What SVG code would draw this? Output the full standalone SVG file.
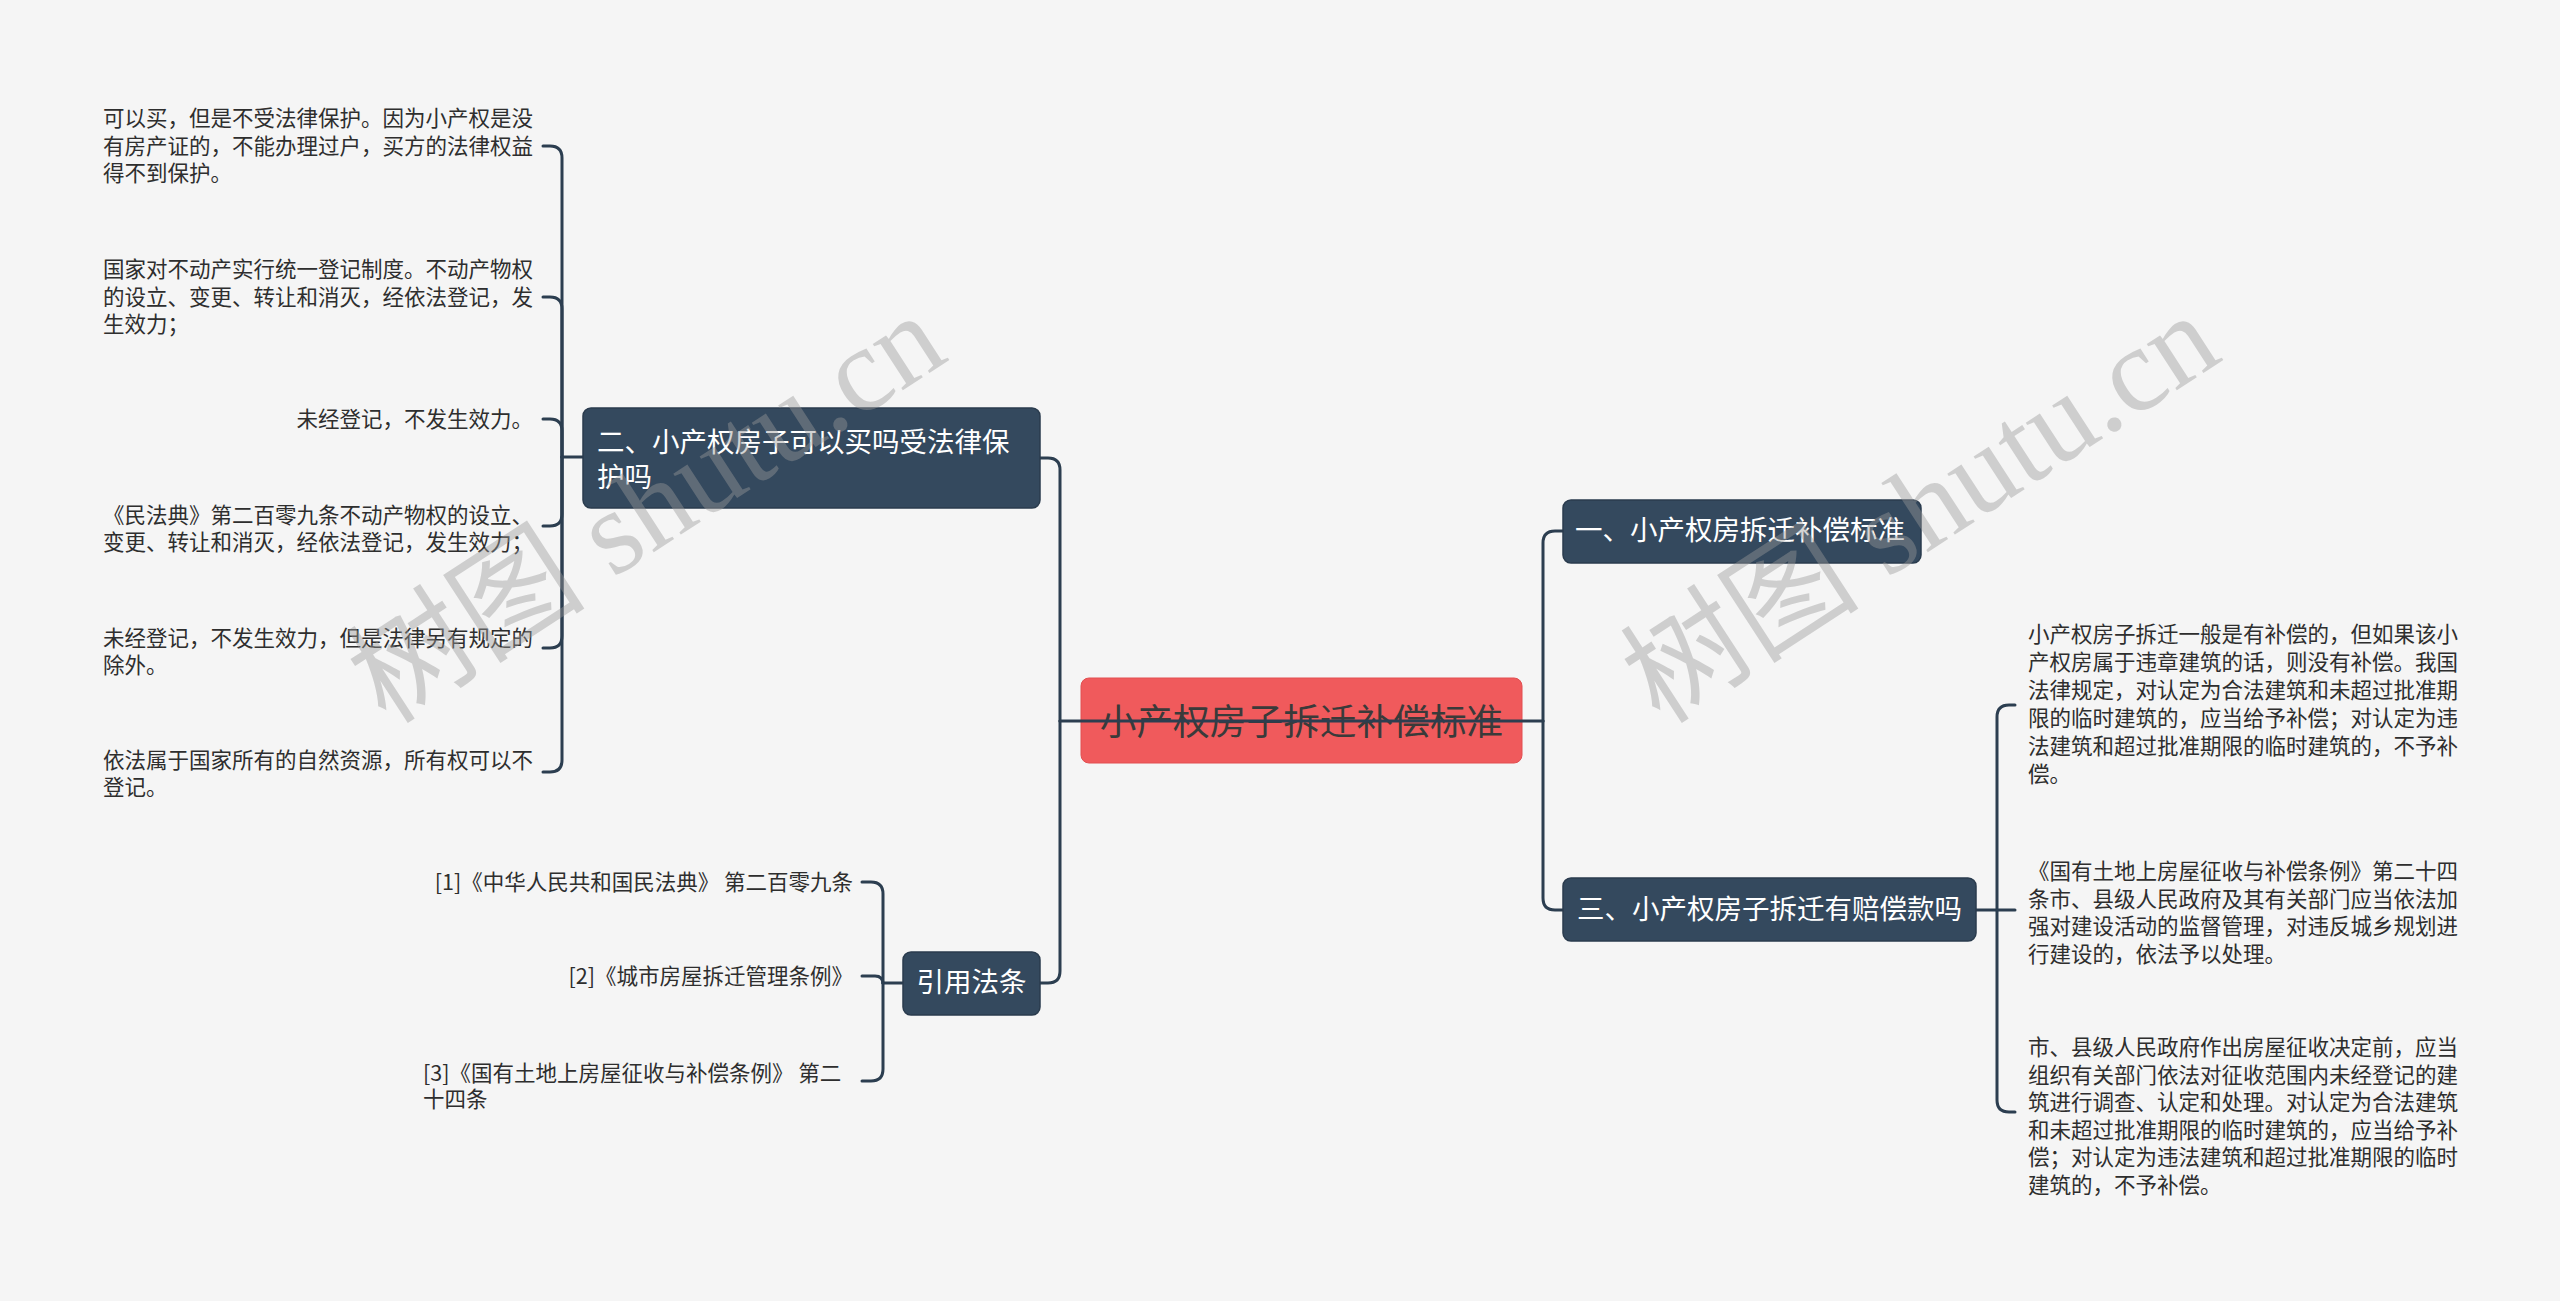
<svg xmlns="http://www.w3.org/2000/svg" width="2560" height="1301" viewBox="0 0 2560 1301">
<style>
.bg{fill:#f5f5f5}
.conn{fill:none;stroke:#2c3e50;stroke-width:3;stroke-linecap:round}
.box{fill:#34495e;stroke:#2a3b4d;stroke-width:1.5}
.root{fill:#f05a5c;stroke:#e24e50;stroke-width:1}
.t{font-family:"Noto Sans CJK SC","Noto Sans",sans-serif;dominant-baseline:central}
.leaf{font-size:21.5px;fill:#2e2e2e;transform:translateY(-2px)}
.main{font-size:27.5px;fill:#ffffff;transform:translateY(-3px)}
.roottxt{font-size:36.7px;fill:#3a3a3a;transform:translateY(-2px)}
.wm{font-family:"Liberation Serif","Noto Sans CJK SC",serif;font-size:120px;fill:#9a9a9a;opacity:0.42}
</style>
<rect class="bg" x="0" y="0" width="2560" height="1301"/>

<g id="connectors">
  <path class="conn" d="M1060,721 V470 Q1060,458 1048,458 H1040"/>
  <path class="conn" d="M1060,721 V971 Q1060,983 1048,983 H1040"/>
  <path class="conn" d="M1543,721 V543 Q1543,531 1555,531 H1563"/>
  <path class="conn" d="M1543,721 V898 Q1543,910 1555,910 H1563"/>
  <path class="conn" d="M583,457 H562"/>
  <path class="conn" d="M562,457 V158 Q562,146 550,146 H543"/>
  <path class="conn" d="M562,457 V309 Q562,297 550,297 H543"/>
  <path class="conn" d="M562,457 V431 Q562,419 550,419 H543"/>
  <path class="conn" d="M562,457 V514 Q562,526 550,526 H543"/>
  <path class="conn" d="M562,457 V636 Q562,648 550,648 H543"/>
  <path class="conn" d="M562,457 V760 Q562,772 550,772 H543"/>
  <path class="conn" d="M903,983 H883"/>
  <path class="conn" d="M883,983 V894 Q883,882 871,882 H862"/>
  <path class="conn" d="M883,983 V984 Q883,976 875,976 H862"/>
  <path class="conn" d="M883,983 V1069 Q883,1081 871,1081 H862"/>
  <path class="conn" d="M1976,910 H1997"/>
  <path class="conn" d="M1997,910 V717 Q1997,705 2009,705 H2015"/>
  <path class="conn" d="M1997,910 H2015"/>
  <path class="conn" d="M1997,910 V1100 Q1997,1112 2009,1112 H2015"/>
</g>

<g id="node-root">
  <rect class="root" x="1081" y="678" width="441" height="85" rx="8"/>
  <text class="t roottxt" x="1301.5" y="721" text-anchor="middle">小产权房子拆迁补偿标准</text>
</g>
<path class="conn" d="M1060,721 H1543"/>

<g id="node-2">
  <rect class="box" x="583" y="408" width="457" height="100" rx="8"/>
  <text class="t main" x="597"><tspan x="597" y="443">二、小产权房子可以买吗受法律保</tspan><tspan x="597" y="478">护吗</tspan></text>
</g>
<g id="node-cite">
  <rect class="box" x="903" y="952" width="137" height="63" rx="8"/>
  <text class="t main" x="971.5" y="983" text-anchor="middle">引用法条</text>
</g>
<g id="node-1">
  <rect class="box" x="1563" y="500" width="358" height="63" rx="8"/>
  <text class="t main" x="1575" y="531">一、小产权房拆迁补偿标准</text>
</g>
<g id="node-3">
  <rect class="box" x="1563" y="878" width="413" height="63" rx="8"/>
  <text class="t main" x="1577" y="910">三、小产权房子拆迁有赔偿款吗</text>
</g>

<g id="leaf-l1">
  <text class="t leaf"><tspan x="103" y="118">可以买，但是不受法律保护。因为小产权是没</tspan><tspan x="103" y="145.5">有房产证的，不能办理过户，买方的法律权益</tspan><tspan x="103" y="173">得不到保护。</tspan></text>
</g>
<g id="leaf-l2">
  <text class="t leaf"><tspan x="103" y="269">国家对不动产实行统一登记制度。不动产物权</tspan><tspan x="103" y="296.5">的设立、变更、转让和消灭，经依法登记，发</tspan><tspan x="103" y="324">生效力；</tspan></text>
</g>
<g id="leaf-l3">
  <text class="t leaf" x="533" y="419" text-anchor="end">未经登记，不发生效力。</text>
</g>
<g id="leaf-l4">
  <text class="t leaf"><tspan x="103" y="515">《民法典》第二百零九条不动产物权的设立、</tspan><tspan x="103" y="542">变更、转让和消灭，经依法登记，发生效力；</tspan></text>
</g>
<g id="leaf-l5">
  <text class="t leaf"><tspan x="103" y="638">未经登记，不发生效力，但是法律另有规定的</tspan><tspan x="103" y="665">除外。</tspan></text>
</g>
<g id="leaf-l6">
  <text class="t leaf"><tspan x="103" y="760">依法属于国家所有的自然资源，所有权可以不</tspan><tspan x="103" y="787">登记。</tspan></text>
</g>

<g id="ref-1">
  <text class="t leaf" x="853" y="882" text-anchor="end">[1]《中华人民共和国民法典》 第二百零九条</text>
</g>
<g id="ref-2">
  <text class="t leaf" x="853" y="976" text-anchor="end">[2]《城市房屋拆迁管理条例》</text>
</g>
<g id="ref-3">
  <text class="t leaf"><tspan x="423" y="1073">[3]《国有土地上房屋征收与补偿条例》 第二</tspan><tspan x="423" y="1099">十四条</tspan></text>
</g>

<g id="leaf-r1">
  <text class="t leaf"><tspan x="2028" y="634">小产权房子拆迁一般是有补偿的，但如果该小</tspan><tspan x="2028" y="662">产权房属于违章建筑的话，则没有补偿。我国</tspan><tspan x="2028" y="690">法律规定，对认定为合法建筑和未超过批准期</tspan><tspan x="2028" y="718">限的临时建筑的，应当给予补偿；对认定为违</tspan><tspan x="2028" y="746">法建筑和超过批准期限的临时建筑的，不予补</tspan><tspan x="2028" y="774">偿。</tspan></text>
</g>
<g id="leaf-r2">
  <text class="t leaf"><tspan x="2028" y="871">《国有土地上房屋征收与补偿条例》第二十四</tspan><tspan x="2028" y="899">条市、县级人民政府及其有关部门应当依法加</tspan><tspan x="2028" y="926">强对建设活动的监督管理，对违反城乡规划进</tspan><tspan x="2028" y="954">行建设的，依法予以处理。</tspan></text>
</g>
<g id="leaf-r3">
  <text class="t leaf"><tspan x="2028" y="1047">市、县级人民政府作出房屋征收决定前，应当</tspan><tspan x="2028" y="1075">组织有关部门依法对征收范围内未经登记的建</tspan><tspan x="2028" y="1102">筑进行调查、认定和处理。对认定为合法建筑</tspan><tspan x="2028" y="1130">和未超过批准期限的临时建筑的，应当给予补</tspan><tspan x="2028" y="1157">偿；对认定为违法建筑和超过批准期限的临时</tspan><tspan x="2028" y="1185">建筑的，不予补偿。</tspan></text>
</g>

<g id="watermarks">
  <text class="wm" x="650" y="548" text-anchor="middle" transform="rotate(-33 650 514)">树图 shutu.cn</text>
  <text class="wm" x="1924" y="548" text-anchor="middle" transform="rotate(-33 1924 514)">树图 shutu.cn</text>
</g>
</svg>
